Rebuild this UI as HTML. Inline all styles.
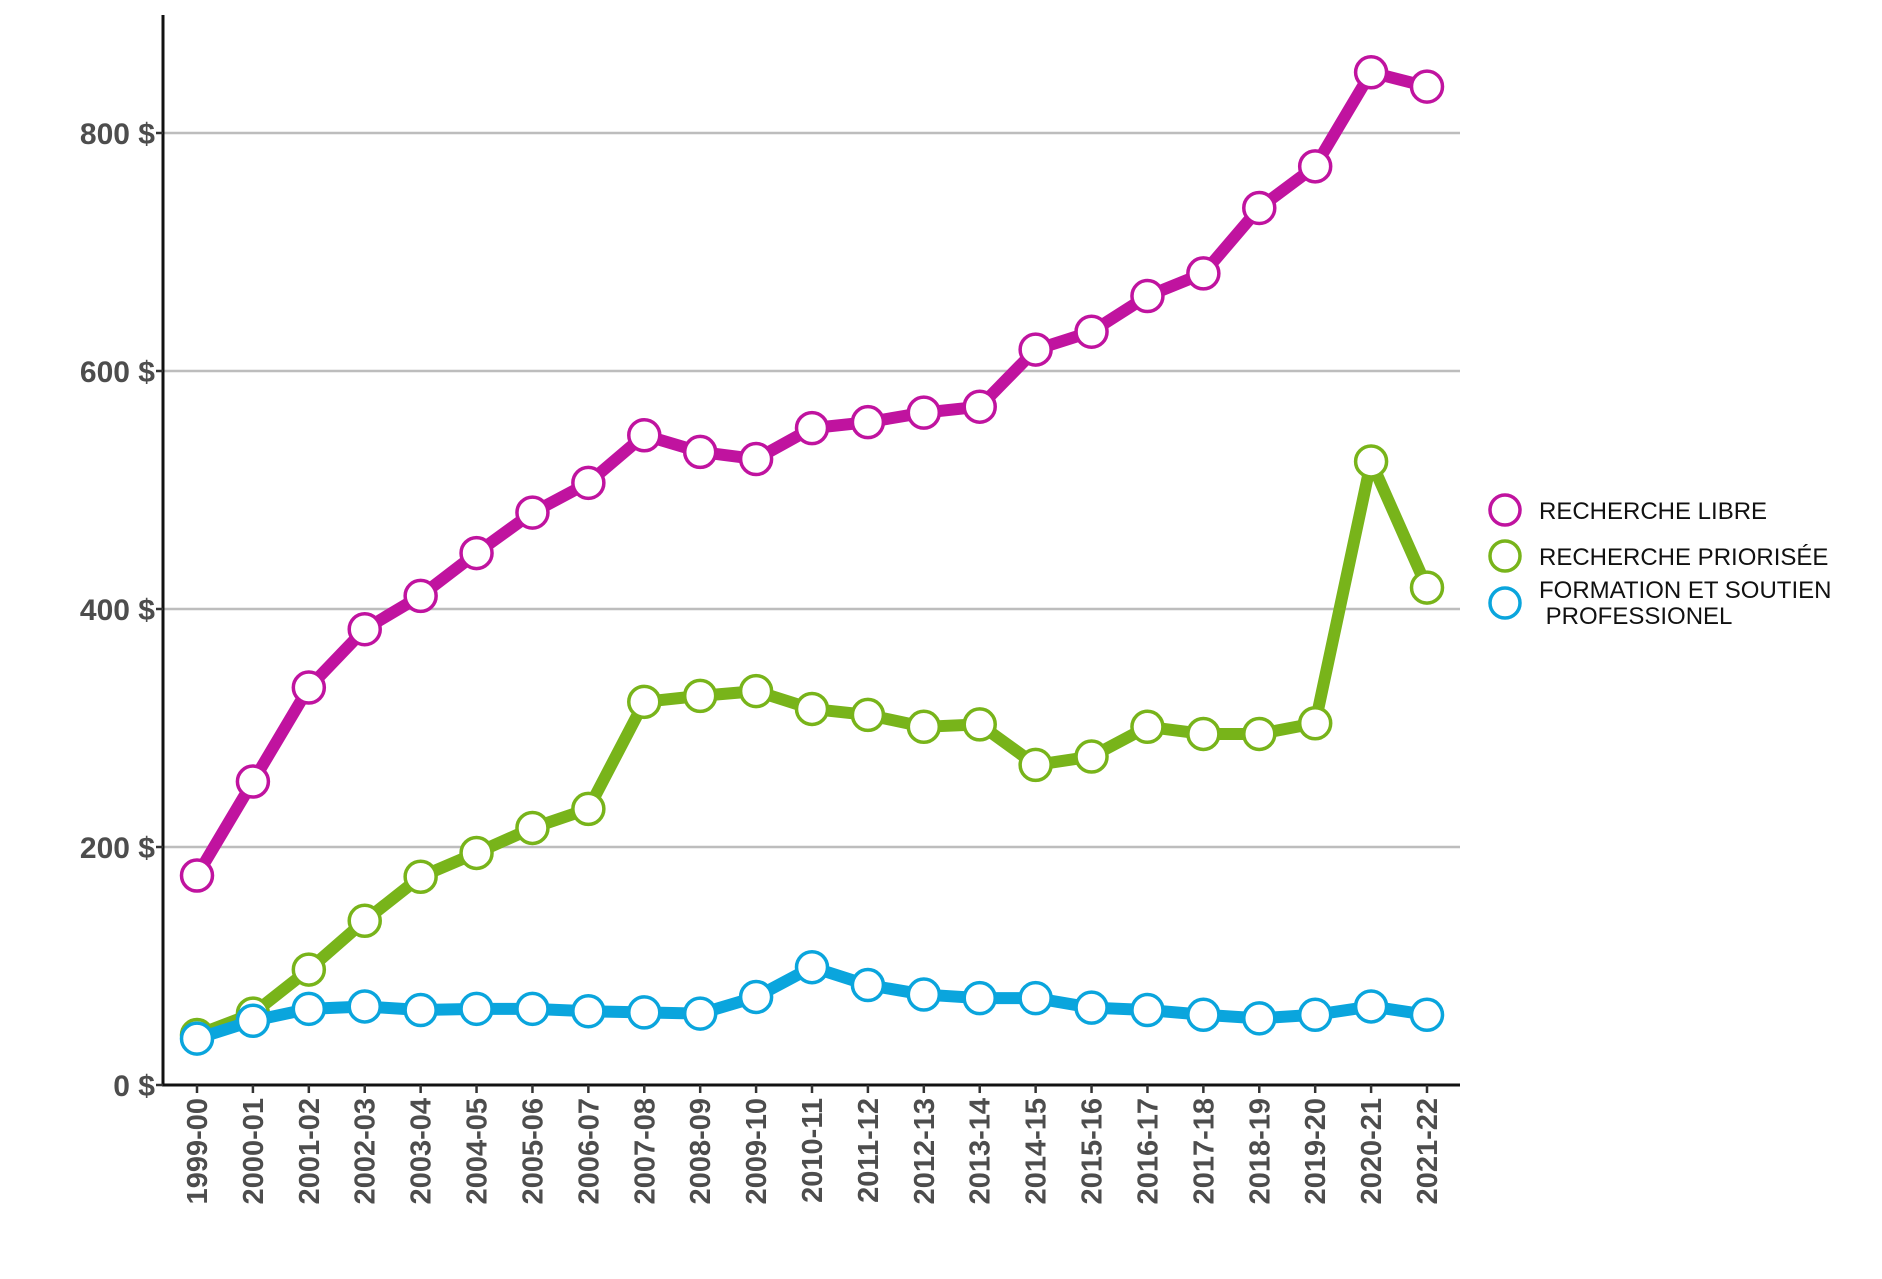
<!DOCTYPE html>
<html><head><meta charset="utf-8"><style>html,body{margin:0;padding:0;background:#fff}svg{display:block}</style></head>
<body>
<svg id="chart" width="1882" height="1279" viewBox="0 0 1882 1279" xmlns="http://www.w3.org/2000/svg" font-family="Liberation Sans, sans-serif">
<g id="grid"></g>
<g id="axes"></g>
<g id="series"></g>
<g id="legend">
  <g>
    <circle cx="1505" cy="510" r="15" fill="#fff" stroke="#c0139f" stroke-width="3.5"/>
    <text x="1539" y="519" font-size="24" fill="#111">RECHERCHE LIBRE</text>
  </g>
  <g>
    <circle cx="1505" cy="556" r="15" fill="#fff" stroke="#78b41a" stroke-width="3.5"/>
    <text x="1539" y="565" font-size="24" fill="#111">RECHERCHE PRIORISÉE</text>
  </g>
  <g>
    <circle cx="1505" cy="603" r="15" fill="#fff" stroke="#0aa5dd" stroke-width="3.5"/>
    <text x="1539" y="598" font-size="24" fill="#111">FORMATION ET SOUTIEN</text>
    <text x="1539" y="624" font-size="24" fill="#111" xml:space="preserve"> PROFESSIONEL</text>
  </g>
</g>
</svg>
<script>
const categories = ["1999-00","2000-01","2001-02","2002-03","2003-04","2004-05","2005-06","2006-07","2007-08","2008-09","2009-10","2010-11","2011-12","2012-13","2013-14","2014-15","2015-16","2016-17","2017-18","2018-19","2019-20","2020-21","2021-22"];
const rechercheLibre = [176,255,334,383,411,447,481,506,546,532,526,552,557,565,570,618,633,663,682,737,772,851,839];
const recherchePriorisee = [42,60,97,138,175,195,216,232,322,327,331,316,311,301,303,269,276,301,295,295,304,524,418];
const formation = [39,54,64,66,63,64,64,62,61,60,74,99,84,76,73,73,65,63,59,56,59,66,59];
const yTicks = [0,200,400,600,800];
const yTickLabels = ["0 $","200 $","400 $","600 $","800 $"];

const NS = "http://www.w3.org/2000/svg";
const X0 = 197, X1 = 1427, Y0 = 1085, YPER = (1085-133)/800;
const xPos = i => X0 + i*(X1-X0)/(categories.length-1);
const yPos = v => Y0 - v*YPER;
function mk(tag, attrs, parent){const e=document.createElementNS(NS,tag);for(const k in attrs)e.setAttribute(k,attrs[k]);parent.appendChild(e);return e;}

const grid = document.getElementById('grid');
yTicks.forEach((t,i)=>{
  if(t===0) return;
  const l = mk('line',{x1:163,x2:1460,y1:yPos(t),y2:yPos(t),stroke:'#bdbdbd','stroke-width':2.5},grid);
  
  
});
const axes = document.getElementById('axes');
const ya = mk('line',{x1:163,x2:163,y1:15,y2:Y0+1,stroke:'#111','stroke-width':3},axes);


const xa = mk('line',{x1:162,x2:1460,y1:Y0,y2:Y0,stroke:'#111','stroke-width':3},axes);


yTicks.forEach((t,i)=>{
  const tk = mk('line',{x1:156,x2:163,y1:yPos(t),y2:yPos(t),stroke:'#333','stroke-width':2.5},axes);
  
  
  const tx = mk('text',{x:155,y:yPos(t)+11,'text-anchor':'end','font-size':30,'font-weight':'bold',fill:'#4d4d4d'},axes);
  tx.textContent = yTickLabels[i];
  
  
});
categories.forEach((c,i)=>{
  const x = xPos(i);
  const tk = mk('line',{x1:x,x2:x,y1:Y0,y2:Y0+8,stroke:'#333','stroke-width':2.5},axes);
  
  
  const tx = mk('text',{x:0,y:0,'text-anchor':'end','font-size':29,'font-weight':'bold',fill:'#4d4d4d',transform:`translate(${x+10},1098) rotate(-90)`},axes);
  tx.textContent = c;
  
  
});
const seriesG = document.getElementById('series');
function drawSeries(vals,color,name){
  const g = mk('g',{},seriesG);
  
  
  const pts = vals.map((v,i)=>xPos(i)+','+yPos(v)).join(' ');
  const pl = mk('polyline',{points:pts,fill:'none',stroke:color,'stroke-width':12,'stroke-linejoin':'round'},g);
  
  
  vals.forEach((v,i)=>{
    const c = mk('circle',{cx:xPos(i),cy:yPos(v),r:15.5,fill:'#fff',stroke:color,'stroke-width':3.5},g);
    
    
  });
}
drawSeries(rechercheLibre,'#c0139f','recherche-libre');
drawSeries(recherchePriorisee,'#78b41a','recherche-priorisee');
drawSeries(formation,'#0aa5dd','formation');
</script>
</body></html>
